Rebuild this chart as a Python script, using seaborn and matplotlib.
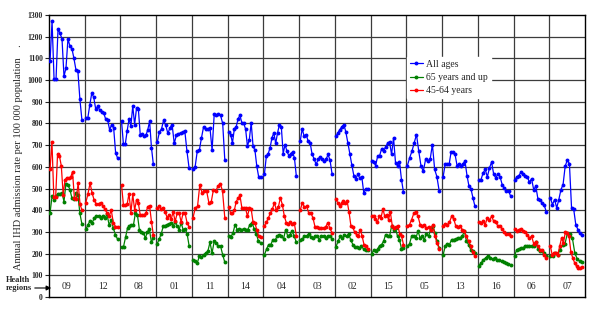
import numpy as np
import pandas as pd
import matplotlib
matplotlib.use("Agg")
import matplotlib.pyplot as plt
import seaborn as sns
from matplotlib.lines import Line2D

# ---------------- data ----------------
regions = ["09", "12", "08", "01", "11", "14", "04", "03", "02", "15", "05", "13", "16", "06", "07"]
series_names = ["All ages", "65 years and up", "45-64 years"]
series_colors = ["#0000FF", "#008000", "#FF0000"]
yticks = list(range(0, 1400, 100))

# one list per health region (in the order of `regions`)
all_ages = [
    [1090, 1272, 1005, 1005, 1236, 1215, 1190, 1018, 1055, 1190, 1156, 1145, 1100, 1048, 1040, 912, 818],
    [825, 825, 885, 940, 920, 865, 880, 862, 855, 848, 820, 815, 770, 795, 780, 665, 640],
    [810, 705, 705, 765, 820, 790, 880, 795, 870, 865, 748, 750, 740, 745, 770, 810, 688, 612],
    [714, 760, 775, 815, 791, 754, 780, 795, 708, 745, 752, 757, 760, 765, 672, 595],
    [588, 600, 672, 677, 734, 785, 775, 775, 780, 677, 842, 837, 842, 837, 800, 631],
    [760, 749, 711, 775, 785, 822, 837, 803, 800, 775, 695, 726, 803, 695, 677, 603, 554, 554],
    [569, 649, 661, 688, 734, 757, 708, 757, 795, 785, 661, 703, 672, 652, 661, 668, 642, 560],
    [718, 775, 741, 749, 718, 711, 657, 637, 611, 634, 646, 634, 626, 634, 657, 631, 569],
    [740, 757, 772, 785, 795, 760, 710, 660, 608, 560, 545, 565, 548, 555, 480, 498, 498],
    [626, 622, 606, 649, 652, 683, 672, 692, 708, 715, 657, 734, 618, 606, 622, 541, 483],
    [606, 642, 672, 711, 749, 672, 603, 580, 634, 626, 634, 703, 588, 554, 488],
    [554, 611, 615, 611, 668, 668, 657, 606, 615, 603, 615, 626, 560, 511, 498, 457, 418],
    [538, 541, 572, 588, 554, 595, 622, 565, 549, 569, 554, 518, 503, 488, 488, 465],
    [538, 554, 560, 575, 569, 560, 554, 529, 545, 495, 511, 452, 449, 434, 422, 391],
    [457, 426, 449, 411, 449, 495, 518, 603, 631, 615, 411, 406, 334, 311, 295, 288],
]

age_65_up = [
    [389, 465, 447, 465, 477, 477, 480, 440, 523, 516, 495, 455, 450, 480, 470, 386, 337],
    [312, 332, 352, 343, 363, 373, 373, 366, 375, 363, 381, 332, 355, 317, 286, 266],
    [232, 232, 275, 317, 327, 332, 332, 389, 378, 309, 301, 297, 271, 301, 312, 255, 271],
    [246, 268, 292, 326, 329, 334, 338, 342, 329, 345, 326, 311, 342, 311, 314, 292, 237],
    [169, 164, 157, 188, 185, 195, 203, 211, 252, 203, 257, 249, 234, 234, 195, 160],
    [280, 277, 295, 334, 311, 314, 311, 314, 311, 311, 334, 342, 314, 292, 257, 249],
    [195, 222, 242, 242, 265, 262, 280, 288, 280, 268, 311, 280, 288, 303, 283, 252],
    [262, 268, 280, 280, 292, 277, 272, 280, 280, 265, 283, 280, 272, 280, 283, 268],
    [231, 257, 280, 272, 288, 280, 292, 262, 242, 231, 231, 226, 234, 222, 218, 218],
    [200, 215, 211, 222, 237, 242, 257, 288, 283, 280, 326, 311, 318, 280, 265, 222, 226],
    [234, 246, 280, 283, 272, 303, 272, 280, 265, 292, 280, 314, 329, 295, 257, 226],
    [195, 234, 246, 242, 265, 265, 268, 272, 272, 280, 303, 257, 242, 218, 211, 203],
    [145, 157, 172, 180, 191, 180, 175, 180, 172, 169, 164, 160, 157, 154, 149],
    [191, 218, 222, 226, 226, 234, 237, 234, 237, 234, 252, 222, 211, 211, 203, 191],
    [188, 191, 203, 195, 218, 242, 246, 295, 292, 272, 203, 175, 165, 160],
]

age_45_64 = [
    [592, 716, 462, 462, 660, 650, 605, 472, 540, 550, 548, 552, 578, 455, 452, 525, 430, 400],
    [435, 475, 525, 478, 445, 428, 430, 435, 420, 405, 388, 372, 400, 342, 325, 325],
    [516, 424, 424, 428, 477, 389, 473, 401, 447, 432, 378, 378, 378, 386, 417, 420, 347, 286],
    [411, 418, 406, 411, 391, 365, 380, 360, 391, 349, 385, 388, 345, 388, 385, 342, 323],
    [365, 411, 418, 518, 480, 488, 488, 434, 437, 495, 488, 511, 523, 488, 365],
    [415, 388, 385, 400, 440, 455, 468, 412, 411, 408, 372, 408, 405, 345, 340, 310, 280, 276],
    [329, 345, 365, 388, 406, 434, 400, 415, 457, 426, 372, 342, 338, 345, 338, 342, 283],
    [400, 434, 415, 418, 388, 388, 365, 323, 323, 318, 318, 318, 323, 342, 318, 295],
    [450, 434, 418, 434, 441, 434, 441, 391, 329, 323, 298, 288, 280, 311, 280, 242, 234, 222],
    [372, 375, 360, 345, 372, 365, 406, 372, 380, 357, 391, 329, 318, 323, 326, 292, 280, 242],
    [329, 334, 357, 385, 391, 372, 334, 326, 334, 318, 323, 311, 334, 280, 249, 222],
    [329, 338, 334, 345, 372, 360, 326, 323, 326, 311, 303, 280, 257, 234, 206, 188],
    [345, 342, 349, 334, 365, 354, 372, 349, 345, 326, 326, 314, 298, 292, 292, 280],
    [314, 303, 311, 314, 303, 298, 288, 272, 280, 246, 252, 234, 218, 215, 195, 180],
    [234, 195, 203, 203, 195, 234, 272, 249, 298, 295, 280, 206, 180, 157, 142, 134, 134, 138],
]

# ---------------- long-form table ----------------
rows = []
for name, data in zip(series_names, [all_ages, age_65_up, age_45_64]):
    for i, (reg, vals) in enumerate(zip(regions, data)):
        xs = i + np.linspace(0.03, 0.92, len(vals))
        for x, v in zip(xs, vals):
            rows.append({"x": x, "rate": v, "series": name, "region": reg})
df = pd.DataFrame(rows)

# ---------------- figure ----------------
sns.set_style("white")
plt.rcParams["font.family"] = ["Liberation Serif", "DejaVu Serif"]

fig = plt.figure(figsize=(6.0, 3.11), dpi=100)
ax = fig.add_axes([49 / 600, 1 - 297 / 311, 536 / 600, 282 / 311])

for y in range(100, 1300, 100):
    ax.axhline(y, color="#3c3c3c", lw=0.9, zorder=1)
for x in range(1, len(regions)):
    ax.axvline(x, color="#3c3c3c", lw=0.9, zorder=1)

sns.lineplot(
    data=df, x="x", y="rate", hue="series", hue_order=series_names,
    palette=series_colors, units="region", estimator=None,
    marker="o", markersize=2.8, markeredgewidth=0, linewidth=0.9,
    legend=False, ax=ax, zorder=3,
)

ax.set_xlim(0, len(regions))
ax.set_ylim(0, 1300)
ax.set_xticks([])
ax.set_yticks(yticks)
ax.set_yticklabels([str(t) for t in yticks], fontsize=5.5, fontweight="bold")
ax.tick_params(axis="y", direction="out", length=3, width=0.8, pad=1.5, left=True)
ax.set_xlabel("")
ax.set_ylabel("")
for sp in ax.spines.values():
    sp.set_color("black")
    sp.set_linewidth(1.0)

for i, reg in enumerate(regions):
    ax.text(i + 0.5, 50, reg, ha="center", va="center", fontsize=7)

fig.text(19 / 600, 0.495, "Annual IHD admission rate per 100 000 population    .",
         rotation=90, ha="center", va="center", fontsize=7.5)

fig.text(6 / 600, 1 - 284 / 311, "Health\nregions", ha="left", va="center",
         fontsize=6, fontweight="bold", linespacing=1.15)
ax.annotate("", xy=(54 / 600, 1 - 288 / 311), xytext=(32 / 600, 1 - 288 / 311),
            xycoords="figure fraction", textcoords="figure fraction",
            arrowprops=dict(arrowstyle="-|>", color="black", lw=0.8, mutation_scale=7))

handles = [Line2D([0], [0], color=c, lw=0.9, marker="o", markersize=2.8, markeredgewidth=0)
           for c in series_colors]
leg = ax.legend(handles, series_names, loc="upper left", bbox_to_anchor=(0.668, 0.852),
                fontsize=7, frameon=True, fancybox=False, framealpha=1,
                handlelength=1.3, handletextpad=0.35, labelspacing=0.45,
                borderpad=0.3, borderaxespad=0)
leg.get_frame().set_facecolor("white")
leg.get_frame().set_edgecolor("white")
leg.set_zorder(5)

fig.savefig("out.png", dpi=100)
